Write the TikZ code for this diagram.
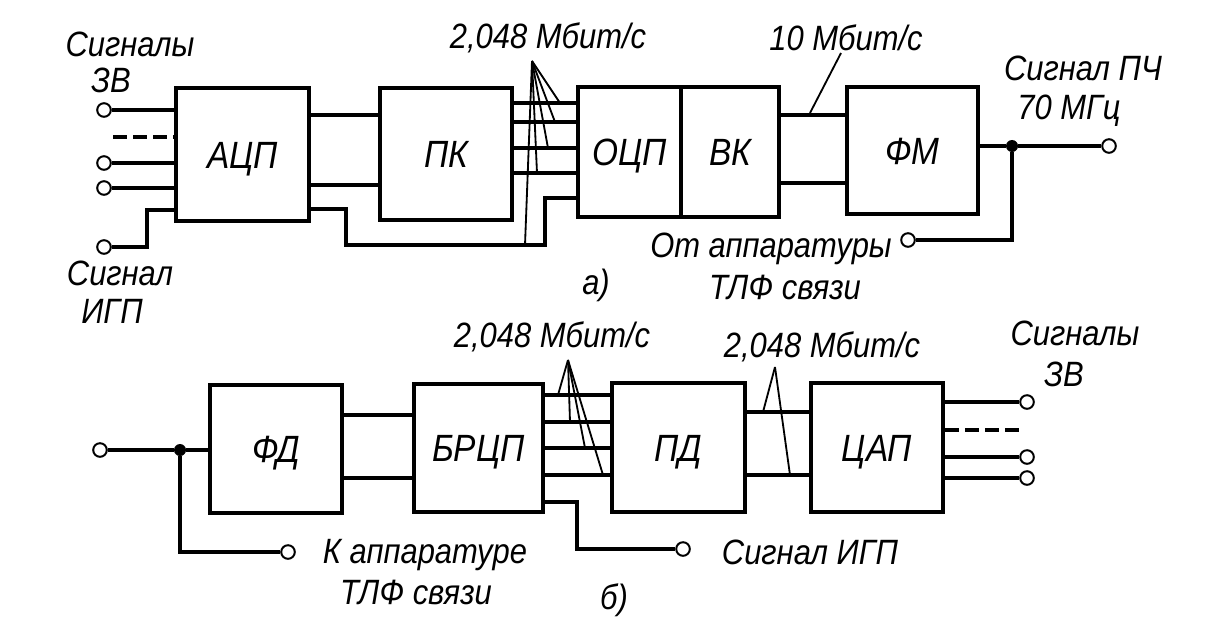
\documentclass[tikz,border=0pt]{standalone}
\usepackage{fontspec}
\newfontfamily\labelfont{Liberation Sans}[FakeStretch=0.88]
\begin{document}
\begin{tikzpicture}[x=0.025cm,y=-0.025cm]
\tikzstyle{block} = [rectangle, draw=black, line width=3.2pt, inner sep=0pt, text height=19.3pt, text depth=0pt, font=\labelfont\itshape\fontsize{27}{30}\selectfont]
\tikzstyle{wire} = [draw=black, line width=2.6pt]
\tikzstyle{tick} = [draw=black, line width=1.3pt]
\tikzstyle{term} = [circle, draw=black, fill=white, line width=1.4pt, inner sep=0pt, minimum size=0.34cm]
\tikzstyle{junction} = [circle, fill=black, inner sep=0pt, minimum size=0.3cm]
\tikzstyle{caption} = [inner sep=0pt, font=\labelfont\itshape\fontsize{25}{28}\selectfont]

\useasboundingbox (0,0) rectangle (1218,631);

\node[block, minimum width=3.325cm, minimum height=3.325cm] (adc) at (242.5,154.5) {АЦП};
\node[block, minimum width=3.3cm, minimum height=3.3cm] (pk) at (446,154) {ПК};
\node[block, minimum width=2.575cm, minimum height=3.25cm] (ocp) at (629.5,152) {ОЦП};
\node[block, minimum width=2.45cm, minimum height=3.25cm] (vk) at (730,152) {ВК};
\node[block, minimum width=3.275cm, minimum height=3.175cm] (fm) at (912.5,150.5) {ФМ};

\node[term] (in1) at (104,110) {};
\node[term] (in2) at (104,163) {};
\node[term] (in3) at (104,188) {};
\node[term] (igp) at (104,247) {};
\node[term] (pch) at (1109,146) {};
\node[term] (tlfin) at (908,240) {};
\node[junction] (ja) at (1012,146) {};
\coordinate (dasha) at (113,137);
\coordinate (fana) at (532,61);
\coordinate (tenb) at (841,53);

\draw[wire] (in1) -- (adc.west |- in1);
\draw[wire] (in2) -- (adc.west |- in2);
\draw[wire] (in3) -- (adc.west |- in3);
\draw[wire, dash pattern=on 0.35cm off 0.15cm] (dasha) -- (adc.west |- dasha);
\draw[wire] (igp) -| (147,210) -- (adc.west |- 0,210);
\draw[wire] (adc.east |- 0,115) -- (pk.west |- 0,115);
\draw[wire] (adc.east |- 0,185) -- (pk.west |- 0,185);
\draw[wire] (adc.east |- 0,209) -| (346,245) -| (545,198) -- (ocp.west |- 0,198);
\draw[wire] (pk.east |- 0,103) -- (ocp.west |- 0,103);
\draw[wire] (pk.east |- 0,122) -- (ocp.west |- 0,122);
\draw[wire] (pk.east |- 0,148) -- (ocp.west |- 0,148);
\draw[wire] (pk.east |- 0,173) -- (ocp.west |- 0,173);
\draw[wire] (vk.east |- 0,115) -- (fm.west |- 0,115);
\draw[wire] (vk.east |- 0,183) -- (fm.west |- 0,183);
\draw[wire] (fm.east |- ja) -- (ja) -- (pch);
\draw[wire] (ja) |- (tlfin);

\draw[tick] (fana) -- (560,103);
\draw[tick] (fana) -- (555,122);
\draw[tick] (fana) -- (548,148);
\draw[tick] (fana) -- (537,173);
\draw[tick] (fana) -- (525,245);
\draw[tick] (tenb) -- (810,113);

\node[caption] (sig3va) at (130,44) {Сигналы};
\node[caption] (zva) at (111,80) {ЗВ};
\node[caption] (sigigp) at (120,273) {Сигнал};
\node[caption] (igpa) at (112,311) {ИГП};
\node[caption] (ratea) at (548,38) {2,048 Мбит/с};
\node[caption] (rateten) at (846,38) {10 Мбит/с};
\node[caption] (pcha) at (1083,68) {Сигнал ПЧ};
\node[caption] (mhz) at (1069,111) {70 МГц};
\node[caption] (fromtlf) at (771,249) {От аппаратуры};
\node[caption] (tlfa) at (785,287) {ТЛФ связи};
\node[caption] (capa) at (596,285) {а)};

\node[block, minimum width=3.3cm, minimum height=3.2cm] (fd) at (276,449) {ФД};
\node[block, minimum width=3.225cm, minimum height=3.2cm] (brcp) at (478.5,448) {БРЦП};
\node[block, minimum width=3.325cm, minimum height=3.225cm] (pd) at (678.5,447.5) {ПД};
\node[block, minimum width=3.3cm, minimum height=3.225cm] (cap) at (877,447.5) {ЦАП};

\node[term] (fdin) at (100,450) {};
\node[term] (tlfout) at (288,552) {};
\node[term] (igpout) at (683,549) {};
\node[term] (out1) at (1027,402) {};
\node[term] (out2) at (1027,457) {};
\node[term] (out3) at (1027,478) {};
\node[junction] (jb) at (180,450) {};
\coordinate (dashb) at (1023,430);
\coordinate (fanb) at (568,360);
\coordinate (fanc) at (775,367);

\draw[wire] (fdin) -- (jb) -- (fd.west |- jb);
\draw[wire] (jb) |- (tlfout);
\draw[wire] (fd.east |- 0,415) -- (brcp.west |- 0,415);
\draw[wire] (fd.east |- 0,478) -- (brcp.west |- 0,478);
\draw[wire] (brcp.east |- 0,395) -- (pd.west |- 0,395);
\draw[wire] (brcp.east |- 0,422) -- (pd.west |- 0,422);
\draw[wire] (brcp.east |- 0,448) -- (pd.west |- 0,448);
\draw[wire] (brcp.east |- 0,475) -- (pd.west |- 0,475);
\draw[wire] (brcp.east |- 0,502) -| (577,549) -- (igpout);
\draw[wire] (pd.east |- 0,412) -- (cap.west |- 0,412);
\draw[wire] (pd.east |- 0,475) -- (cap.west |- 0,475);
\draw[wire] (cap.east |- out1) -- (out1);
\draw[wire, dash pattern=on 0.35cm off 0.15cm] (cap.east |- dashb) -- (dashb);
\draw[wire] (cap.east |- out2) -- (out2);
\draw[wire] (cap.east |- out3) -- (out3);

\draw[tick] (fanb) -- (558,395);
\draw[tick] (fanb) -- (570,422);
\draw[tick] (fanb) -- (585,448);
\draw[tick] (fanb) -- (603,475);
\draw[tick] (fanc) -- (763,412);
\draw[tick] (fanc) -- (790,475);

\node[caption] (rateb) at (552,337) {2,048 Мбит/с};
\node[caption] (ratec) at (822,347) {2,048 Мбит/с};
\node[caption] (sig3vb) at (1075,333) {Сигналы};
\node[caption] (zvb) at (1064,374) {ЗВ};
\node[caption] (totlf) at (425,555) {К аппаратуре};
\node[caption] (tlfb) at (416,592) {ТЛФ связи};
\node[caption] (igpb) at (810,552) {Сигнал ИГП};
\node[caption] (capb) at (614,600) {б)};
\end{tikzpicture}
\end{document}
